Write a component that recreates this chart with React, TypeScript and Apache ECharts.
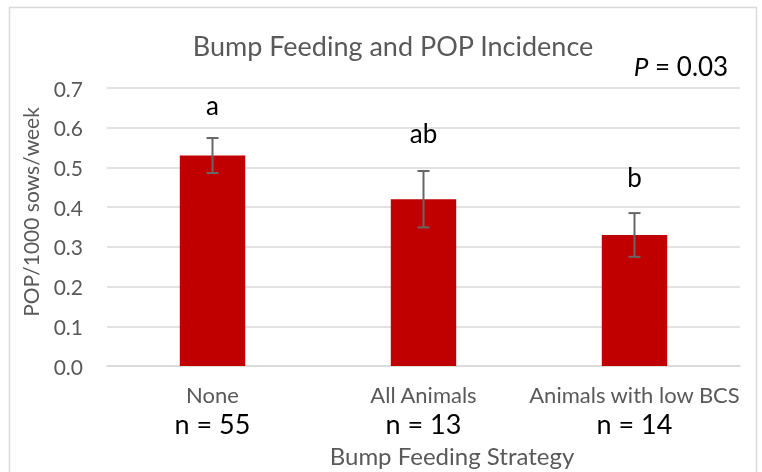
import React, { useEffect, useRef } from "react";
import * as echarts from "echarts";

const categories = ["None", "All Animals", "Animals with low BCS"];
const nValues = [55, 13, 14];
const means = [0.53, 0.42, 0.33];
const errors = [0.044, 0.071, 0.055];
const letters = ["a", "ab", "b"];
const letterY = [0.657, 0.587, 0.476];
const yTicks = { min: 0, max: 0.7, interval: 0.1 };

const FONT = "Lato";
const GREY = "#595959";

export default function App() {
  const ref = useRef<HTMLDivElement>(null);
  useEffect(() => {
    if (!ref.current) return;
    const chart = echarts.init(ref.current, null, { renderer: "svg" });
    const errData = categories.map((c, i) => [i, means[i] - errors[i], means[i] + errors[i]]);
    const letterData = categories.map((c, i) => [i, letterY[i], letters[i]]);
    chart.setOption({
      animation: false,
      textStyle: { fontFamily: FONT },
      grid: { left: 107, right: 22, top: 88, bottom: 106 },
      title: [
        {
          text: "Bump Feeding and POP Incidence",
          left: 388,
          top: 27,
          textAlign: "center",
          textStyle: { fontFamily: FONT, fontSize: 27, fontWeight: "normal", color: GREY },
        },
        {
          text: "{i|P} = 0.03",
          left: 676,
          top: 48,
          textAlign: "center",
          textStyle: {
            fontFamily: FONT,
            fontSize: 26,
            fontWeight: "normal",
            color: "#000",
            rich: {
              i: { fontFamily: FONT, fontSize: 26, fontStyle: "italic", color: "#000" },
            },
          },
        },
        {
          text: "Bump Feeding Strategy",
          left: 447,
          top: 438,
          textAlign: "center",
          textStyle: { fontFamily: FONT, fontSize: 24, fontWeight: "normal", color: GREY },
        },
      ],
      graphic: [
        {
          type: "rect",
          shape: { x: 9.5, y: 7.5, width: 747, height: 490 },
          style: { fill: "none", stroke: "#d9d9d9", lineWidth: 1.5 },
          silent: true,
        },
        {
          type: "text",
          x: 30,
          y: 212,
          rotation: Math.PI / 2,
          style: {
            text: "POP/1000 sows/week",
            fontFamily: FONT,
            fontSize: 21,
            fill: GREY,
            align: "center",
            verticalAlign: "middle",
          },
        },
      ],
      xAxis: {
        type: "category",
        data: categories,
        axisLine: { lineStyle: { color: "#d9d9d9", width: 1.5 } },
        axisTick: { show: false },
        axisLabel: {
          margin: 14,
          interval: 0,
          formatter: (v: string, i: number) => `{c|${v}}\n{n|n = ${nValues[i]}}`,
          rich: {
            c: { fontFamily: FONT, fontSize: 22, color: GREY, lineHeight: 28 },
            n: { fontFamily: FONT, fontSize: 27, color: "#000", lineHeight: 30 },
          },
        },
      },
      yAxis: {
        type: "value",
        min: yTicks.min,
        max: yTicks.max,
        interval: yTicks.interval,
        axisLine: { show: false },
        axisTick: { show: false },
        axisLabel: {
          margin: 24,
          fontFamily: FONT,
          fontSize: 21,
          color: GREY,
          formatter: (v: number) => v.toFixed(1),
        },
        splitLine: { lineStyle: { color: "#d9d9d9", width: 1.5 } },
      },
      series: [
        {
          type: "bar",
          data: means,
          barWidth: "31%",
          itemStyle: { color: "#c00000" },
        },
        {
          type: "custom",
          data: errData,
          z: 5,
          renderItem: (params: any, api: any) => {
            const x = api.value(0);
            const lo = api.coord([x, api.value(1)]);
            const hi = api.coord([x, api.value(2)]);
            const cap = 6;
            const style = { stroke: "#666666", lineWidth: 2 };
            return {
              type: "group",
              children: [
                { type: "line", shape: { x1: lo[0], y1: lo[1], x2: hi[0], y2: hi[1] }, style },
                { type: "line", shape: { x1: hi[0] - cap, y1: hi[1], x2: hi[0] + cap, y2: hi[1] }, style },
                { type: "line", shape: { x1: lo[0] - cap, y1: lo[1], x2: lo[0] + cap, y2: lo[1] }, style },
              ],
            };
          },
        },
        {
          type: "custom",
          data: letterData,
          z: 6,
          renderItem: (params: any, api: any) => {
            const p = api.coord([api.value(0), api.value(1)]);
            return {
              type: "text",
              x: p[0],
              y: p[1],
              style: {
                text: String(letterData[params.dataIndex][2]),
                fontFamily: FONT,
                fontSize: 26,
                fill: "#000",
                align: "center",
                verticalAlign: "middle",
              },
            };
          },
        },
      ],
    });
    return () => chart.dispose();
  }, []);
  return (
    <div
      ref={ref}
      style={{ position: "fixed", left: 0, top: 0, width: 762, height: 472 }}
    />
  );
}
